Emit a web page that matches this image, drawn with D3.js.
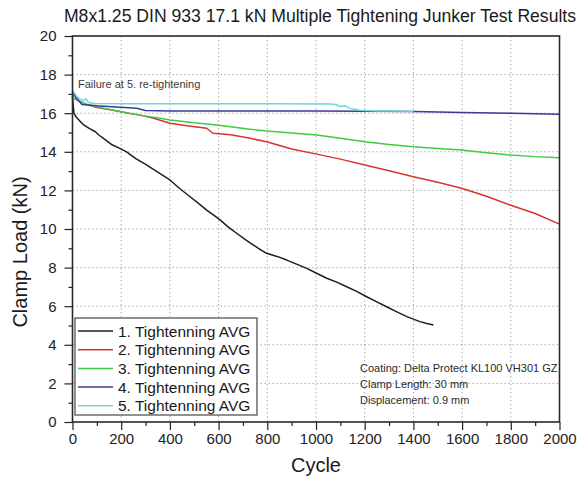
<!DOCTYPE html>
<html>
<head>
<meta charset="utf-8">
<script src="https://cdn.jsdelivr.net/npm/d3@7/dist/d3.min.js"></script>
<style>
  html, body { margin: 0; padding: 0; background: #fff; }
  svg { display: block; font-family: "Liberation Sans", Arial, sans-serif; }
</style>
</head>
<body>
<svg id="chart" width="584" height="477"></svg>
<script>
// Junker test: clamp load over vibration cycles for five tightenings
const seriesNames = [
  "1. Tightenning AVG",
  "2. Tightenning AVG",
  "3. Tightenning AVG",
  "4. Tightenning AVG",
  "5. Tightenning AVG"
];
const seriesColors = ["#1e1e1e", "#d8342f", "#3fcc3f", "#3d389e", "#6cd8d8"];

const cycles1 = [0, 2, 6, 15, 30, 46, 70, 94, 108, 127, 160, 190, 222, 260, 304, 350, 400, 440, 483, 520, 551, 580, 606, 640, 674, 710, 743, 770, 797, 840, 880, 920, 962, 1000, 1044, 1085, 1126, 1165, 1208, 1250, 1290, 1330, 1373, 1400, 1427, 1455, 1482];
const load1 = [16.9, 16.5, 16.0, 15.8, 15.6, 15.39, 15.2, 15.04, 14.87, 14.7, 14.38, 14.2, 14.0, 13.65, 13.32, 12.95, 12.54, 12.1, 11.67, 11.3, 10.98, 10.72, 10.47, 10.1, 9.78, 9.45, 9.17, 8.95, 8.74, 8.58, 8.39, 8.18, 7.96, 7.72, 7.45, 7.25, 7.01, 6.78, 6.49, 6.22, 5.97, 5.72, 5.46, 5.33, 5.2, 5.1, 5.03];

const cycles2 = [0, 5, 40, 66, 100, 162, 231, 277, 330, 400, 470, 551, 577, 650, 729, 797, 900, 1003, 1100, 1201, 1300, 1400, 1500, 1598, 1700, 1797, 1900, 2000];
const load2 = [17.0, 16.77, 16.55, 16.42, 16.3, 16.17, 16.0, 15.9, 15.75, 15.48, 15.35, 15.22, 14.96, 14.88, 14.7, 14.52, 14.15, 13.88, 13.62, 13.32, 13.02, 12.71, 12.42, 12.11, 11.7, 11.24, 10.8, 10.25];

const cycles3 = [0, 5, 66, 162, 231, 277, 367, 400, 500, 592, 650, 729, 797, 900, 1003, 1100, 1201, 1300, 1400, 1500, 1598, 1700, 1797, 1900, 2000];
const load3 = [17.0, 16.77, 16.42, 16.17, 16.0, 15.9, 15.73, 15.65, 15.5, 15.39, 15.3, 15.17, 15.08, 14.98, 14.87, 14.7, 14.52, 14.38, 14.26, 14.17, 14.09, 13.95, 13.83, 13.75, 13.69];

const cycles4 = [0, 15, 39, 100, 162, 231, 264, 299, 400, 600, 800, 1000, 1200, 1400, 1600, 1800, 2000];
const load4 = [17.1, 16.8, 16.45, 16.38, 16.34, 16.28, 16.26, 16.14, 16.12, 16.11, 16.11, 16.11, 16.1, 16.09, 16.04, 16.0, 15.94];

const cycles5 = [0, 10, 25, 45, 55, 66, 90, 200, 500, 800, 1060, 1080, 1100, 1120, 1140, 1160, 1180, 1250, 1300, 1400];
const load5 = [17.2, 17.0, 16.77, 16.65, 16.75, 16.55, 16.5, 16.49, 16.49, 16.49, 16.48, 16.45, 16.35, 16.38, 16.25, 16.2, 16.15, 16.12, 16.12, 16.1];

const xMajorTicks = [0, 200, 400, 600, 800, 1000, 1200, 1400, 1600, 1800, 2000];
const yMajorTicks = [0, 2, 4, 6, 8, 10, 12, 14, 16, 18, 20];

const titleText = "M8x1.25 DIN 933 17.1 kN Multiple Tightening Junker Test Results";
const xTitle = "Cycle";
const yTitle = "Clamp Load (kN)";
const failureNote = "Failure at 5. re-tightening";
const testNotes = ["Coating: Delta Protect KL100 VH301 GZ", "Clamp Length: 30 mm", "Displacement: 0.9 mm"];

const series = [
  { cycles: cycles1, load: load1 },
  { cycles: cycles2, load: load2 },
  { cycles: cycles3, load: load3 },
  { cycles: cycles4, load: load4 },
  { cycles: cycles5, load: load5 }
];

const svg = d3.select("#chart");
const plot = { left: 72.5, right: 559.5, top: 36, bottom: 422 };

const x = d3.scaleLinear().domain([0, 2000]).range([plot.left, plot.right]);
const y = d3.scaleLinear().domain([0, 20]).range([plot.bottom, plot.top]);

const xMinorTicks = d3.range(100, 2000, 200);
const yMinorTicks = d3.range(1, 20, 2);

// dotted grid at the major ticks
const grid = svg.append("g").attr("stroke", "#a8a8a8").attr("stroke-width", 1)
  .attr("stroke-dasharray", "1.5,2.5");
grid.selectAll("line.gx").data(xMajorTicks.slice(1, -1)).join("line")
  .attr("x1", d => x(d)).attr("x2", d => x(d))
  .attr("y1", plot.top).attr("y2", plot.bottom);
grid.selectAll("line.gy").data(yMajorTicks.slice(1, -1)).join("line")
  .attr("x1", plot.left).attr("x2", plot.right)
  .attr("y1", d => y(d)).attr("y2", d => y(d));

// data lines
const line = d3.line().x(d => x(d[0])).y(d => y(d[1]));
series.forEach((s, i) => {
  const pts = s.cycles.map((c, k) => [c, s.load[k]]);
  svg.append("path").datum(pts)
    .attr("fill", "none")
    .attr("stroke", seriesColors[i])
    .attr("stroke-width", 1.5)
    .attr("stroke-linejoin", "round")
    .attr("d", line);
});

// axes
function styleAxis(g) {
  g.select(".domain").remove();
  g.selectAll(".tick line").attr("stroke", "#222").attr("stroke-width", 1.2);
  g.selectAll(".tick text").attr("fill", "#222").style("font-size", "15px")
    .style("font-family", "'Liberation Sans', Arial, sans-serif");
}
svg.append("g").attr("transform", `translate(0,${plot.bottom})`)
  .call(d3.axisBottom(x).tickValues(xMinorTicks).tickSize(4).tickFormat(""))
  .call(styleAxis);
svg.append("g").attr("transform", `translate(0,${plot.bottom})`)
  .call(d3.axisBottom(x).tickValues(xMajorTicks).tickSize(8).tickPadding(3).tickFormat(d3.format("d")))
  .call(styleAxis);
svg.append("g").attr("transform", `translate(${plot.left},0)`)
  .call(d3.axisLeft(y).tickValues(yMinorTicks).tickSize(4).tickFormat(""))
  .call(styleAxis);
svg.append("g").attr("transform", `translate(${plot.left},0)`)
  .call(d3.axisLeft(y).tickValues(yMajorTicks).tickSize(8).tickPadding(8).tickFormat(d3.format("d")))
  .call(styleAxis);

// frame
svg.append("rect")
  .attr("x", plot.left).attr("y", plot.top)
  .attr("width", plot.right - plot.left).attr("height", plot.bottom - plot.top)
  .attr("fill", "none").attr("stroke", "#2a2a2a").attr("stroke-width", 1.6);

// titles
svg.append("text").attr("x", 320).attr("y", 22).attr("text-anchor", "middle")
  .style("font-size", "17.6px").attr("fill", "#1a1a1a").text(titleText);
svg.append("text").attr("x", (plot.left + plot.right) / 2).attr("y", 472).attr("text-anchor", "middle")
  .style("font-size", "20px").attr("fill", "#1a1a1a").text(xTitle);
svg.append("text").attr("transform", "translate(27,252) rotate(-90)").attr("text-anchor", "middle")
  .style("font-size", "20px").attr("fill", "#1a1a1a").text(yTitle);

// notes
svg.append("text").attr("x", 78).attr("y", 88)
  .style("font-size", "11px").attr("fill", "#3a3a3a").text(failureNote);
svg.append("g").selectAll("text").data(testNotes).join("text")
  .attr("x", 360).attr("y", (d, i) => 372 + i * 16)
  .style("font-size", "11px").attr("fill", "#2a2a2a").text(d => d);

// legend
const legend = svg.append("g");
legend.append("rect").attr("x", 75).attr("y", 318).attr("width", 182).attr("height", 97)
  .attr("fill", "#fff").attr("stroke", "#555").attr("stroke-width", 1.3);
const rows = legend.selectAll("g.row").data(seriesNames).join("g")
  .attr("transform", (d, i) => `translate(0,${331 + i * 18.7})`);
rows.append("line").attr("x1", 78).attr("x2", 113).attr("y1", 0).attr("y2", 0)
  .attr("stroke", (d, i) => seriesColors[i]).attr("stroke-width", 1.5);
rows.append("text").attr("x", 118).attr("y", 5.5)
  .style("font-size", "15.5px").attr("fill", "#1a1a1a").text(d => d);
</script>
</body>
</html>
